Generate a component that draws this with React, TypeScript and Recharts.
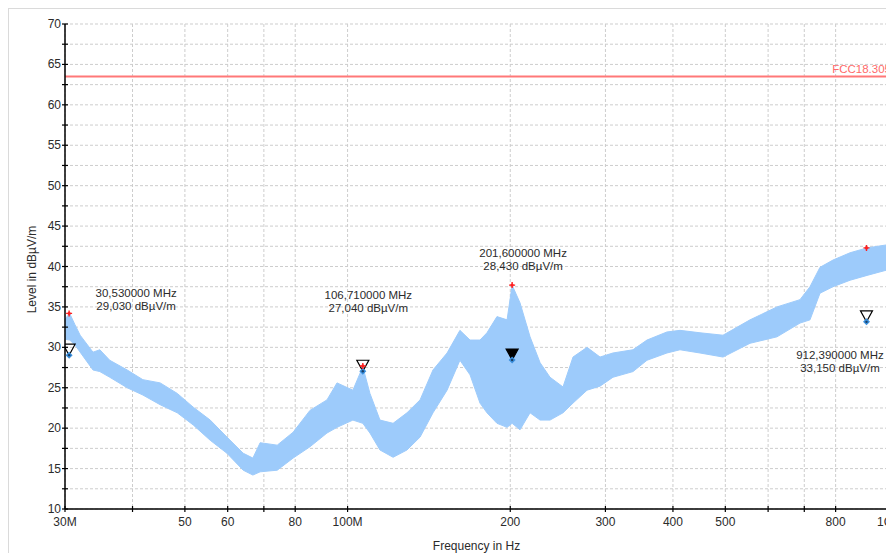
import React from 'react';
import {
  ComposedChart,
  Area,
  Scatter,
  XAxis,
  YAxis,
  CartesianGrid,
  ReferenceLine
} from 'recharts';

// measured trace envelope (MHz, dBµV/m)
const freqMHz = [
  30, 30.6, 31.3, 32.0, 33.8, 34.8, 36.3, 39.1, 41.8, 45.0, 48.4, 51.8, 55.7, 59.8,
  64.1, 66.8, 68.9, 74.1, 79.3, 85.2, 91.6, 95.6, 102.3, 106.7, 110.0, 114.8, 121.4,
  128.8, 136.2, 143.9, 152.8, 161.4, 168.5, 175.8, 181.1, 189.0, 197.3, 201.6, 208.5,
  217.6, 227.1, 236.9, 250.4, 261.3, 277.4, 293.2, 309.8, 337.4, 358.1, 389.9, 412.2,
  448.9, 495.1, 555.5, 623.2, 687.3, 717.2, 748.5, 791.1, 850.7, 914.6, 1000
];
const levelLow = [
  31.0, 30.9, 30.3, 29.4, 27.2, 27.0, 26.3, 25.0, 24.1, 22.9, 21.9, 20.4, 18.5, 16.9,
  14.8, 14.2, 14.6, 14.8, 16.3, 17.7, 19.4, 20.1, 21.0, 20.6, 19.4, 17.3, 16.4,
  17.3, 18.9, 21.9, 24.7, 28.4, 26.6, 23.1, 21.9, 20.6, 20.1, 20.6, 19.8,
  21.9, 21.0, 21.0, 21.9, 23.1, 24.7, 25.2, 26.3, 27.0, 28.4, 29.3, 29.7,
  29.3, 28.8, 30.5, 31.3, 33.0, 33.4, 36.7, 37.5, 38.3, 38.9, 39.6
];
const levelHigh = [
  33.5, 34.2, 32.8, 31.5, 29.4, 29.7, 28.4, 27.2, 26.0, 25.6, 24.3, 22.6, 21.0, 18.9,
  16.9, 16.3, 18.2, 17.9, 19.5, 22.2, 23.5, 25.6, 24.7, 27.6, 24.3, 21.0, 20.6,
  21.9, 23.5, 27.2, 29.3, 32.1, 30.9, 30.9, 31.8, 33.8, 33.4, 37.7, 35.5,
  31.3, 28.1, 26.3, 25.1, 28.8, 30.0, 28.8, 29.3, 29.7, 30.9, 31.9, 32.1,
  31.8, 31.5, 33.4, 35.0, 35.9, 37.5, 39.9, 40.8, 41.7, 42.3, 42.7
];

// markers
const markerFreqs = [30.53, 106.71, 201.6, 912.39];
const peakLevels = [34.2, 27.7, 37.7, 42.3];
const qpLevels = [29.03, 27.04, 28.43, 33.15];
const activeMarker = 2;

const limitName = 'FCC18.305';
const limitLevel = 63.5;

const xTicks = [30, 40, 50, 60, 70, 80, 100, 200, 300, 400, 500, 600, 700, 800, 1000];
const xTickLabels: Record<number, string> = {
  30: '30M', 50: '50', 60: '60', 80: '80', 100: '100M', 200: '200',
  300: '300', 400: '400', 500: '500', 800: '800', 1000: '1G'
};
const yTicks = [10, 12.5, 15, 17.5, 20, 22.5, 25, 27.5, 30, 32.5, 35, 37.5, 40, 42.5, 45,
  47.5, 50, 52.5, 55, 57.5, 60, 62.5, 65, 67.5, 70];

const trace = freqMHz.map((f, i) => ({ f, range: [levelLow[i], levelHigh[i]] }));
const peakPoints = markerFreqs.map((f, i) => ({ f, level: peakLevels[i], idx: i }));
const qpPoints = markerFreqs.map((f, i) => ({ f, level: qpLevels[i], idx: i }));

const labelOffsets = [[67, -58], [5.5, -72], [11, -103], [-26.5, 37]];
const TEXT = '#2b2b2b';

const XTick = ({ x, y, payload }: any) => {
  // last label sits against the right edge
  const shift = payload.value === 1000 ? -3 : 0;
  return (
    <g>
      <line x1={x} x2={x} y1={y - 3} y2={y + 3} stroke="#000" strokeWidth={1.2} />
      <text x={x + shift} y={y + 17} textAnchor="middle" fontSize={12} fill={TEXT}>
        {xTickLabels[payload.value] ?? ''}
      </text>
    </g>
  );
};

const YTick = ({ x, y, payload }: any) => (
  <g>
    <line x1={x - 3} x2={x + 3} y1={y} y2={y} stroke="#000" strokeWidth={1.2} />
    {payload.value % 5 === 0 && (
      <text x={x - 4} y={y + 4} textAnchor="end" fontSize={12} fill={TEXT}>
        {payload.value}
      </text>
    )}
  </g>
);

const PeakShape = ({ cx, cy }: any) => (
  <g>
    <path d={`M${cx - 3},${cy}L${cx + 3},${cy}M${cx},${cy - 3}L${cx},${cy + 3}`} stroke="#ff2020" strokeWidth={1.4} />
    <circle cx={cx} cy={cy} r={1.6} fill="#ff2020" />
  </g>
);

const QpShape = ({ cx, cy }: any) => (
  <g>
    <path d={`M${cx},${cy - 3.5}L${cx + 3.5},${cy}L${cx},${cy + 3.5}L${cx - 3.5},${cy}Z`} fill="#3a8fdc" />
    <circle cx={cx} cy={cy} r={1.2} fill="#1b3f66" />
  </g>
);

const TriShape = ({ cx, cy, payload }: any) => {
  const filled = payload.idx === activeMarker;
  return (
    <path
      d={`M${cx - 6},${cy - 11}L${cx + 6},${cy - 11}L${cx},${cy}Z`}
      fill={filled ? '#000' : 'none'}
      stroke="#000"
      strokeWidth={1.2}
    />
  );
};

const MarkerLabel = ({ cx, cy, payload }: any) => {
  const [dx, dy] = labelOffsets[payload.idx];
  const fText = payload.f.toFixed(6).replace('.', ',') + ' MHz';
  const lText = payload.level.toFixed(3).replace('.', ',') + ' dBµV/m';
  return (
    <g>
      <text x={cx + dx} y={cy + dy} textAnchor="middle" fontSize={11.5} fill={TEXT}>{fText}</text>
      <text x={cx + dx} y={cy + dy + 13} textAnchor="middle" fontSize={11.5} fill={TEXT}>{lText}</text>
    </g>
  );
};

export default function App() {
  return (
    <div
      style={{
        width: 887,
        height: 560,
        border: '1px solid #dadada',
        background: '#fff',
        fontFamily: '"Liberation Sans", Arial, sans-serif'
      }}
    >
      <style>{'body{overflow:hidden}'}</style>
      <ComposedChart
        width={885}
        height={544}
        data={trace}
        margin={{ top: 15, right: 6, left: 0, bottom: 0 }}
      >
        <CartesianGrid stroke="#cdcdcd" strokeDasharray="3 2" />
        <XAxis
          dataKey="f"
          type="number"
          scale="log"
          domain={[30, 1000]}
          ticks={xTicks}
          interval={0}
          height={44}
          tickSize={0}
          tickMargin={0}
          tickLine={false}
          tick={<XTick />}
          axisLine={{ stroke: '#000', strokeWidth: 1.5 }}
          allowDataOverflow
          label={{
            content: ({ viewBox }: any) => (
              <text x={viewBox.x + viewBox.width / 2} y={viewBox.y + 41} textAnchor="middle" fontSize={12} fill={TEXT}>
                Frequency in Hz
              </text>
            )
          }}
        />
        <YAxis
          type="number"
          domain={[10, 70]}
          ticks={yTicks}
          interval={0}
          width={56}
          tickSize={0}
          tickMargin={0}
          tickLine={false}
          tick={<YTick />}
          axisLine={{ stroke: '#000', strokeWidth: 1.5 }}
          allowDataOverflow
          label={{
            content: ({ viewBox }: any) => {
              const cx = viewBox.x + 27;
              const cy = viewBox.y + viewBox.height / 2 + 3;
              return (
                <text x={cx} y={cy} transform={`rotate(-90 ${cx} ${cy})`} textAnchor="middle" fontSize={12} fill={TEXT}>
                  Level in dBµV/m
                </text>
              );
            }
          }}
        />
        <ReferenceLine
          y={limitLevel}
          stroke="#ff7878"
          strokeWidth={2}
          label={{
            content: ({ viewBox }: any) => (
              <text x={viewBox.x + viewBox.width + 3} y={viewBox.y - 4} textAnchor="end" fontSize={11.5} fill="#ff6a6a">
                {limitName}
              </text>
            )
          }}
        />
        <Area
          dataKey="range"
          type="linear"
          stroke="#9dcbfb"
          strokeWidth={1}
          fill="#9dcbfb"
          fillOpacity={1}
          dot={false}
          activeDot={false}
          isAnimationActive={false}
        />
        <Scatter data={qpPoints} dataKey="level" shape={(p: any) => <TriShape {...p} />} isAnimationActive={false} />
        <Scatter data={qpPoints} dataKey="level" shape={(p: any) => <QpShape {...p} />} isAnimationActive={false} />
        <Scatter data={peakPoints} dataKey="level" shape={(p: any) => <PeakShape {...p} />} isAnimationActive={false} />
        <Scatter data={qpPoints} dataKey="level" shape={(p: any) => <MarkerLabel {...p} />} isAnimationActive={false} />
      </ComposedChart>
    </div>
  );
}
